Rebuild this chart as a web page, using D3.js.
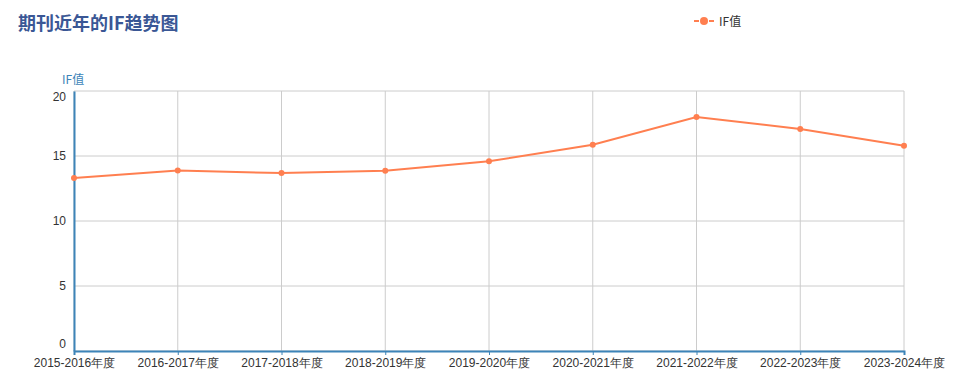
<!DOCTYPE html>
<html>
<head>
<meta charset="utf-8">
<script src="https://cdn.jsdelivr.net/npm/d3@7"></script>
<style>
  body { margin: 0; background: #fff; }
  svg { font-family: "Microsoft YaHei", "Noto Sans CJK SC", Arial, sans-serif; }
</style>
</head>
<body>
<div id="chart"></div>
<script>
// data
const years = ["2015-2016年度", "2016-2017年度", "2017-2018年度", "2018-2019年度", "2019-2020年度",
  "2020-2021年度", "2021-2022年度", "2022-2023年度", "2023-2024年度"];
const ifValues = [13.31, 13.88, 13.69, 13.87, 14.59, 15.87, 18.0, 17.08, 15.79];
const yTicks = [0, 5, 10, 15, 20];

const width = 957, height = 387;
const margin = {top: 91, right: 53, bottom: 36, left: 74};

let svg = d3.select("#chart").append("svg")
  .attr("width", width)
  .attr("height", height);

let x = d3.scalePoint().domain(years).range([margin.left, width - margin.right]);
let y = d3.scaleLinear().domain([0, 20]).range([height - margin.bottom, margin.top]);

// title
svg.append("text")
  .attr("x", 18).attr("y", 30)
  .attr("fill", "#3a5795")
  .attr("font-size", 18).attr("font-weight", "bold")
  .text("期刊近年的IF趋势图");

// legend
let legend = svg.append("g").attr("transform", "translate(694,21)");
legend.append("line").attr("x1", 0).attr("x2", 20).attr("y1", 0).attr("y2", 0)
  .attr("stroke", "#ff7f50").attr("stroke-width", 2).attr("stroke-dasharray", "5,10,5");
legend.append("circle").attr("cx", 10).attr("cy", 0).attr("r", 4).attr("fill", "#ff7f50");
legend.append("text").attr("x", 25).attr("y", 4.5).attr("font-size", 12).attr("fill", "#333").text("IF值");

// horizontal grid
svg.append("g").selectAll("line")
  .data(yTicks)
  .join("line")
  .attr("x1", margin.left).attr("x2", width - margin.right)
  .attr("y1", d => y(d)).attr("y2", d => y(d))
  .attr("stroke", "#ccc").attr("stroke-width", 1);

// vertical grid
svg.append("g").selectAll("line")
  .data(years)
  .join("line")
  .attr("x1", d => x(d)).attr("x2", d => x(d))
  .attr("y1", margin.top).attr("y2", height - margin.bottom)
  .attr("stroke", "#ccc").attr("stroke-width", 1);

// y axis
let yAxis = svg.append("g")
  .attr("transform", `translate(${margin.left},0)`)
  .call(d3.axisLeft(y).tickValues(yTicks).tickSize(0).tickPadding(8));
yAxis.select(".domain").attr("stroke", "#3d84b8").attr("stroke-width", 2);
// the end labels sit inside the plot, like the original
yAxis.selectAll("text").attr("font-size", 12).attr("fill", "#333")
  .attr("font-family", "Arial, 'Liberation Sans', sans-serif")
  .attr("dy", d => d == 0 ? "-0.3em" : (d == 20 ? "0.75em" : "0.32em"));

svg.append("text")
  .attr("x", 62).attr("y", 84)
  .attr("fill", "#3d84b8").attr("font-size", 12)
  .text("IF值");

// x axis
let xAxis = svg.append("g")
  .attr("transform", `translate(0,${height - margin.bottom})`)
  .call(d3.axisBottom(x).tickSize(4).tickPadding(3));
xAxis.select(".domain").attr("stroke", "#3d84b8").attr("stroke-width", 2);
xAxis.selectAll(".tick line").attr("stroke", "#3d84b8");
xAxis.selectAll("text").attr("font-size", 12).attr("fill", "#333");

// line
let line = d3.line()
  .x((d, i) => x(years[i]))
  .y(d => y(d));

svg.append("path")
  .datum(ifValues)
  .attr("d", line)
  .attr("fill", "none")
  .attr("stroke", "#ff7f50")
  .attr("stroke-width", 2);

svg.append("g").selectAll("circle")
  .data(ifValues)
  .join("circle")
  .attr("cx", (d, i) => x(years[i]))
  .attr("cy", d => y(d))
  .attr("r", 3)
  .attr("fill", "#ff7f50");
</script>
</body>
</html>
